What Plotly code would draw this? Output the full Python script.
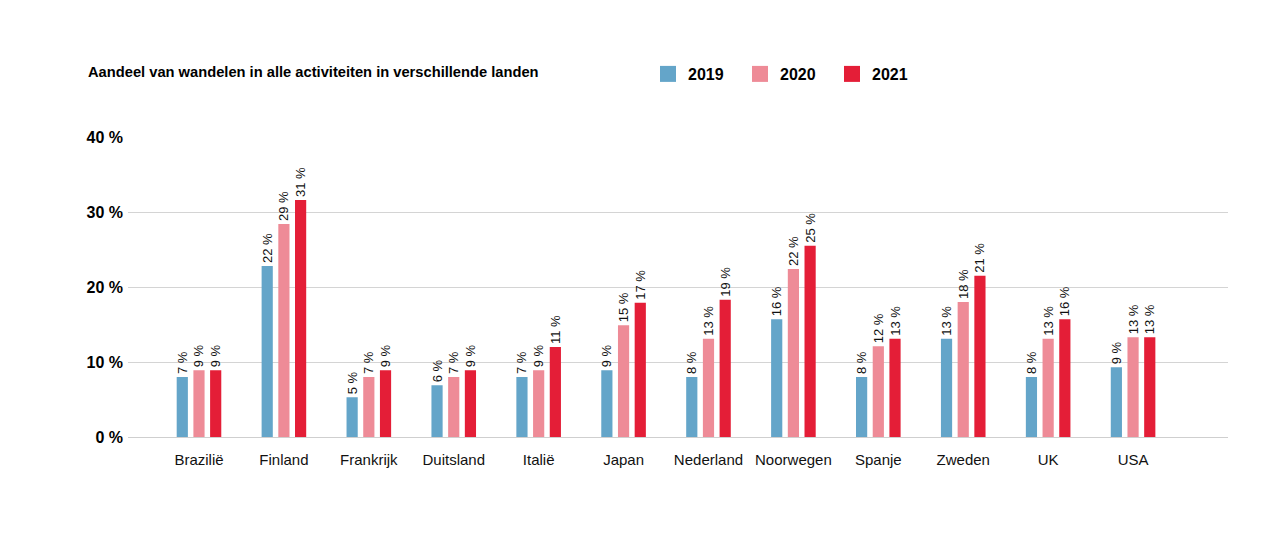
import plotly.graph_objects as go

countries = ["Brazilië", "Finland", "Frankrijk", "Duitsland", "Italië", "Japan",
             "Nederland", "Noorwegen", "Spanje", "Zweden", "UK", "USA"]
years = ["2019", "2020", "2021"]

values_2019 = [8.0, 22.8, 5.3, 6.9, 8.0, 8.9, 8.0, 15.7, 8.0, 13.1, 8.0, 9.3]
values_2020 = [8.9, 28.4, 8.0, 8.0, 8.9, 14.9, 13.1, 22.4, 12.1, 18.0, 13.1, 13.3]
values_2021 = [8.9, 31.6, 8.9, 8.9, 12.0, 17.9, 18.3, 25.5, 13.1, 21.5, 15.7, 13.3]

labels_2019 = [7, 22, 5, 6, 7, 9, 8, 16, 8, 13, 8, 9]
labels_2020 = [9, 29, 7, 7, 9, 15, 13, 22, 12, 18, 13, 13]
labels_2021 = [9, 31, 9, 9, 11, 17, 19, 25, 13, 21, 16, 13]

y_ticks = [0, 10, 20, 30, 40]
y_tick_text = ["0 %", "10 %", "20 %", "30 %", "40 %"]

colors = ["#64A5C9", "#EE8B97", "#E41E37"]
title_text = "Aandeel van wandelen in alle activiteiten in verschillende landen"

series = [values_2019, values_2020, values_2021]
labels = [labels_2019, labels_2020, labels_2021]

FONT = "Liberation Sans, Arial, sans-serif"

fig = go.Figure()
for name, vals, labs, col in zip(years, series, labels, colors):
    fig.add_trace(go.Bar(
        x=countries, y=vals, name=name, legendgroup=name, showlegend=False,
        marker=dict(color=col, line=dict(width=0)),
        text=[f"{v} %" for v in labs],
        textposition="outside", textangle=-90,
        textfont=dict(family=FONT, size=13, color="#111"),
        cliponaxis=False,
    ))
# legend swatches (larger squares, as in the reference)
for name, col in zip(years, colors):
    fig.add_trace(go.Scatter(
        x=[None], y=[None], mode="markers", name=name, legendgroup=name,
        marker=dict(symbol="square", size=16, color=col, line=dict(width=0)),
        showlegend=True,
    ))

fig.update_layout(
    width=1280, height=547,
    paper_bgcolor="white", plot_bgcolor="white",
    barmode="group", bargap=0.41, bargroupgap=0.33,
    margin=dict(l=120, r=60, t=129, b=118),
    title=dict(text=title_text, x=80/1280, xanchor="left", xref="container",
               y=1-64/547, yanchor="middle", yref="container",
               font=dict(family=FONT, size=14.7, color="#000", weight="bold")),
    legend=dict(orientation="h", x=640/1280, xanchor="left", xref="container",
                y=1-66/547, yanchor="middle", yref="container",
                font=dict(family=FONT, size=16, color="#000", weight="bold"),
                itemwidth=30, entrywidth=47, entrywidthmode="pixels",
                itemsizing="trace"),
    showlegend=True,
    uniformtext=dict(mode="show", minsize=13),
)
fig.update_xaxes(
    range=[-0.836, 12.118], showgrid=False, showline=False, ticks="",
    ticklabelstandoff=12,
    tickfont=dict(family=FONT, size=15, color="#111"),
)
fig.update_yaxes(
    range=[0, 40], tickvals=y_ticks, ticktext=y_tick_text,
    showgrid=True, gridcolor="#D4D4D4", gridwidth=1,
    zeroline=True, zerolinecolor="#CFCFCF", zerolinewidth=1,
    showline=False, ticks="", ticklabelstandoff=4,
    tickfont=dict(family=FONT, size=16, color="#000", weight="bold"),
)
fig.write_html("out.html")
